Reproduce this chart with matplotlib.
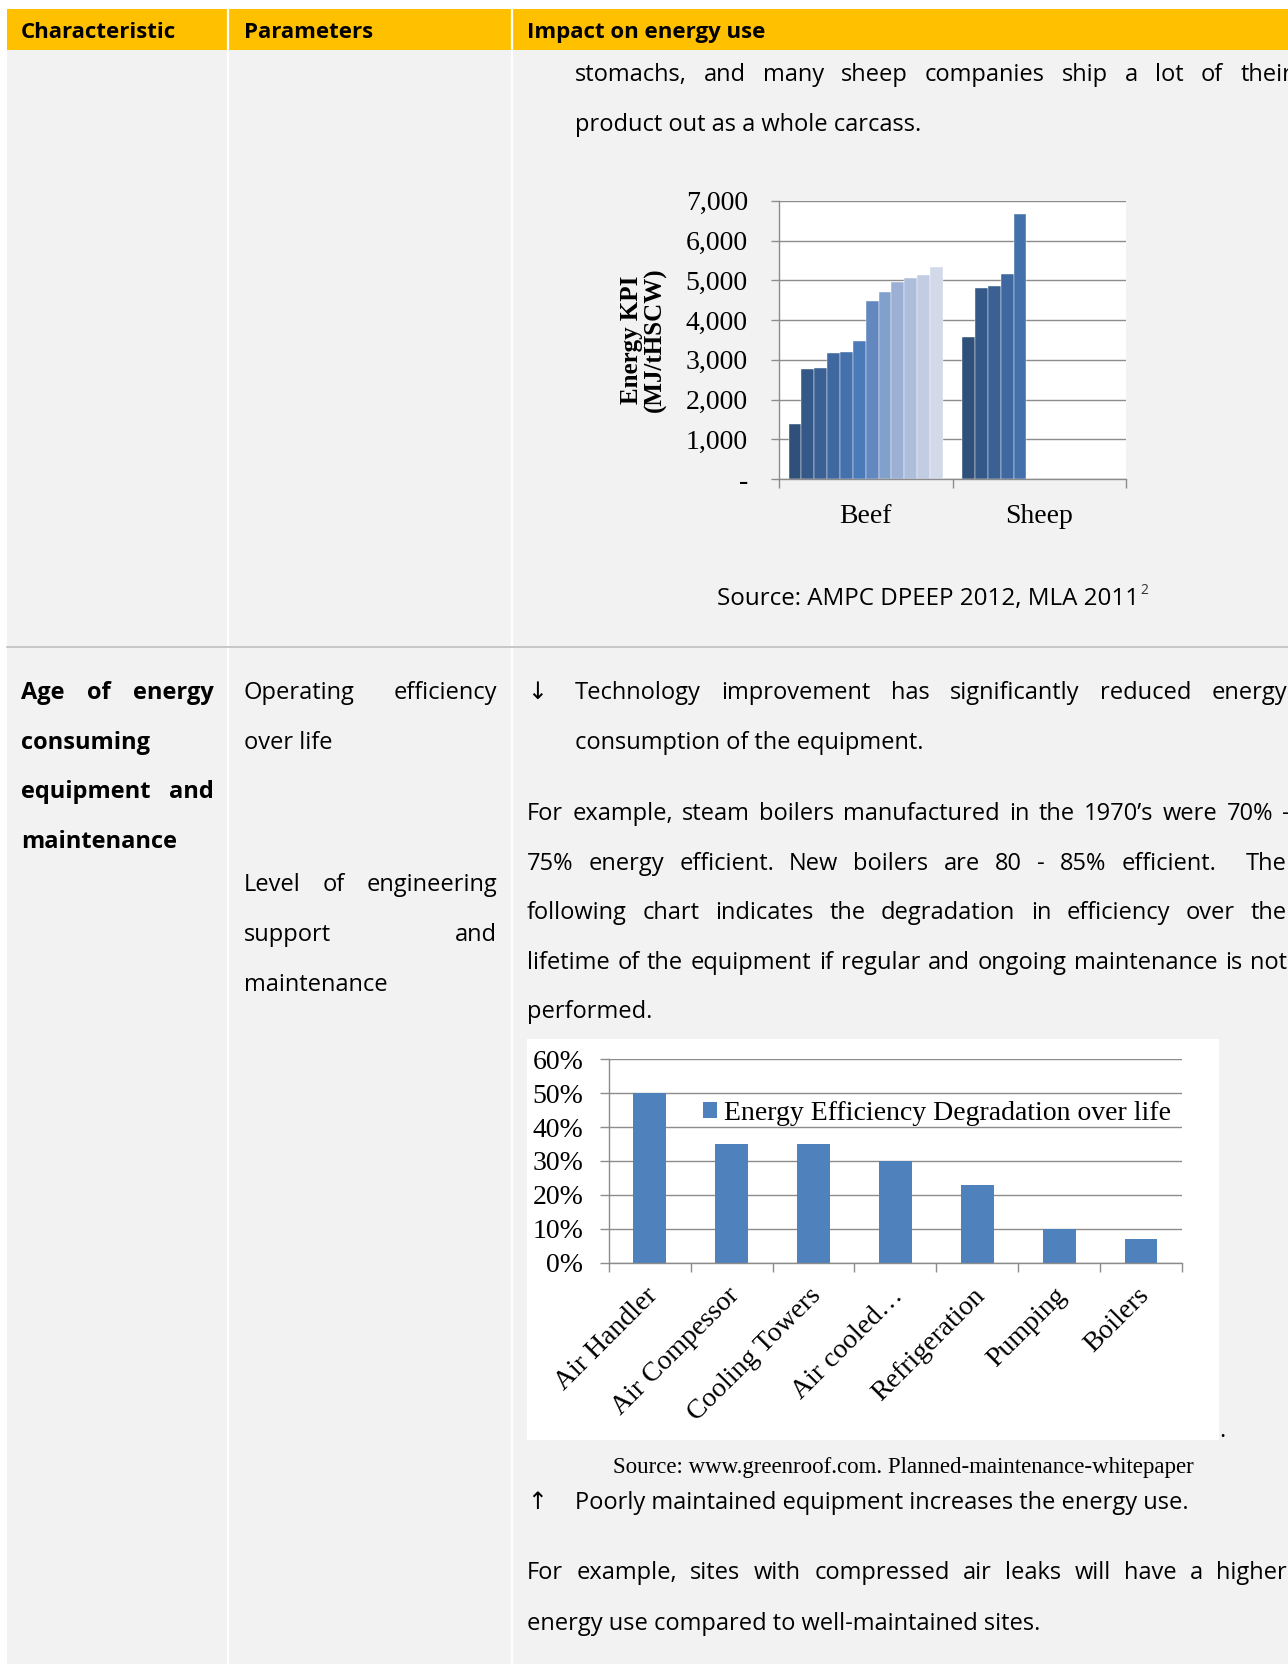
import numpy as np
import matplotlib
matplotlib.use("Agg")
import matplotlib.pyplot as plt
from matplotlib.patches import Rectangle
from matplotlib.ticker import FuncFormatter, PercentFormatter
from matplotlib.transforms import ScaledTranslation

# ── Data ───────────────────────────────────────────────────────────────────
kpi_groups = ['Beef', 'Sheep']
beef_kpi = [1380, 2770, 2790, 3180, 3200, 3475, 4480, 4705, 4965, 5060, 5135, 5335]
sheep_kpi = [3570, 4800, 4865, 5160, 6665]
kpi_colors = ['#2f5078', '#345888', '#3a6094', '#3f68a0', '#4470ab', '#4a7bb8',
              '#6388c0', '#82a0cc', '#9bb0d4', '#adbedc', '#c2cde4', '#d2d9e8']
kpi_ticks = [0, 1000, 2000, 3000, 4000, 5000, 6000, 7000]

equipment = ['Air Handler', 'Air Compessor', 'Cooling Towers', 'Air cooled…',
             'Refrigeration', 'Pumping', 'Boilers']
degradation = [0.50, 0.35, 0.35, 0.30, 0.23, 0.10, 0.07]
degradation_label = 'Energy Efficiency Degradation over life'

header_cols = ['Characteristic', 'Parameters', 'Impact on energy use']

# ── Page setup (page axes works in pixel units) ───────────────────────────
W, H = 1288, 1664
SANS = ['Open Sans', 'DejaVu Sans']
SERIF = ['Liberation Serif', 'DejaVu Serif']
BODY = 17
GRID = '#8c8c8c'

fig = plt.figure(figsize=(W / 100, H / 100), dpi=100)
page = fig.add_axes([0, 0, 1, 1])
page.set_xlim(0, W)
page.set_ylim(H, 0)
page.axis('off')
renderer = fig.canvas.get_renderer()

page.add_patch(Rectangle((7, 8.5), W - 7, 41.5, color='#FFC000', lw=0))
page.add_patch(Rectangle((7, 50), W - 7, H - 50, color='#f2f2f2', lw=0))
for xc in (228, 512):
    page.plot([xc, xc], [8.5, H], color='white', lw=1.6)
page.plot([7, W], [647, 647], color='#bfbfbf', lw=1.2)


def line(s, x0, y, x1=None, bold=False, size=BODY, family=SANS):
    """Draw one line of text at baseline y; justify it between x0 and x1."""
    kw = dict(fontsize=size, family=family, fontweight='bold' if bold else 'normal',
              va='baseline', ha='left', color='black')
    if x1 is None:
        return page.text(x0, y, s, **kw)
    words = s.split(' ')
    objs = [page.text(x0, y, w, **kw) for w in words]
    widths = [o.get_window_extent(renderer).width if w else 0 for o, w in zip(objs, words)]
    gap = (x1 - x0 - sum(widths)) / max(len(words) - 1, 1)
    x = x0
    for o, wd in zip(objs, widths):
        o.set_x(x)
        x += wd + gap
    return objs[-1]


# header
for label, x in zip(header_cols, (21, 244, 527)):
    line(label, x, 38, bold=True, size=16)

# first row (continuation)
line('stomachs, and many sheep companies ship a lot of their', 575, 81, 1292)
line('product out as a whole carcass.', 575, 131)
src = line('Source: AMPC DPEEP 2012, MLA 2011', 717, 605, size=17.4)
src_end = src.get_window_extent(renderer).x1
page.text(src_end + 1, 594, '2', fontsize=10, family=SANS, va='baseline', ha='left',
          color='#333333')

# second row, left and middle columns
line('Age of energy', 21, 699, 214, bold=True)
line('consuming', 21, 749, bold=True)
line('equipment and', 21, 798, 214, bold=True)
line('maintenance', 21, 848, bold=True)

line('Operating efficiency', 244, 699, 497)
line('over life', 244, 749)
line('Level of engineering', 244, 891, 497)
line('support and', 244, 941, 497)
line('maintenance', 244, 991)

# second row, right column
line('↓', 527, 699)
line('Technology improvement has significantly reduced energy', 575, 699, 1287)
line('consumption of the equipment.', 575, 749)
line('For example, steam boilers manufactured in the 1970’s were 70% -', 527, 820, 1290)
line('75% energy efficient. New boilers are 80 - 85% efficient.  The', 527, 870, 1287)
line('following chart indicates the degradation in efficiency over the', 527, 919, 1287)
line('lifetime of the equipment if regular and ongoing maintenance is not', 527, 969, 1287)
line('performed.', 527, 1018)

page.add_patch(Rectangle((527, 1039), 692, 401, color='white', lw=0))
page.text(1222, 1437, '.', fontsize=BODY, family=SANS, va='baseline', ha='center')
page.text(903, 1473, 'Source: www.greenroof.com. Planned-maintenance-whitepaper',
          fontsize=16.5, family=SERIF, va='baseline', ha='center')

line('↑', 527, 1509)
line('Poorly maintained equipment increases the energy use.', 575, 1509)
line('For example, sites with compressed air leaks will have a higher', 527, 1579, 1287)
line('energy use compared to well-maintained sites.', 527, 1630)


def px_axes(left, top, right, bottom):
    return fig.add_axes([left / W, 1 - bottom / H, (right - left) / W, (bottom - top) / H])


def style_axes(ax):
    ax.set_facecolor('white')
    for side in ('top', 'right'):
        ax.spines[side].set_visible(False)
    for side in ('left', 'bottom'):
        ax.spines[side].set_color(GRID)
        ax.spines[side].set_linewidth(1.0)
    ax.yaxis.grid(True, color=GRID, lw=1.0)
    ax.set_axisbelow(True)
    ax.tick_params(axis='x', which='major', length=0)
    ax.tick_params(axis='x', which='minor', length=6.5, color=GRID, width=1.0, direction='out')


# ── Energy KPI chart ─────────────────────────────────────────────────────
ax1 = px_axes(779, 200.7, 1126, 479.3)
style_axes(ax1)
n_series = len(beef_kpi)
bw = 1 / (n_series + 1.5)
xpos = np.arange(len(kpi_groups))
for i in range(n_series):
    vals = [beef_kpi[i], sheep_kpi[i] if i < len(sheep_kpi) else np.nan]
    ax1.bar(xpos - 0.5 + 0.75 * bw + (i + 0.5) * bw, vals, width=bw,
            color=kpi_colors[i], edgecolor='#ffffff', linewidth=0.3)
ax1.set_xlim(-0.5, len(kpi_groups) - 0.5)
ax1.set_ylim(kpi_ticks[0], kpi_ticks[-1])
ax1.set_yticks(kpi_ticks)
ax1.yaxis.set_major_formatter(FuncFormatter(lambda v, _: '-' if v == 0 else f'{v:,.0f}'))
ax1.set_xticks(xpos)
ax1.set_xticklabels(kpi_groups)
ax1.set_xticks(np.arange(len(kpi_groups) + 1) - 0.5, minor=True)
ax1.tick_params(axis='y', length=5.5, color=GRID, width=1.0, pad=17)
ax1.tick_params(axis='x', which='major', pad=17.5)
for t in ax1.get_xticklabels() + ax1.get_yticklabels():
    t.set_fontfamily(SERIF)
    t.set_fontsize(20)
ax1.text(-0.39, 0.5, 'Energy KPI\n(MJ/tHSCW)', transform=ax1.transAxes, rotation=90,
         ha='center', va='center', family=SERIF, fontweight='bold', fontsize=18,
         linespacing=1.05)

# ── Efficiency degradation chart ─────────────────────────────────────────
ax2 = px_axes(608.7, 1059.3, 1182, 1262.7)
style_axes(ax2)
xe = np.arange(len(equipment))
ax2.bar(xe, degradation, width=0.4, color='#4F81BD', label=degradation_label)
ax2.set_xlim(-0.5, len(equipment) - 0.5)
ax2.set_ylim(0, 0.6)
ax2.set_yticks(np.arange(0, 0.61, 0.1))
ax2.yaxis.set_major_formatter(PercentFormatter(1.0, decimals=0))
ax2.set_xticks(xe)
ax2.set_xticklabels(equipment, rotation=45, ha='right', va='top', rotation_mode='anchor')
ax2.set_xticks(np.arange(len(equipment) + 1) - 0.5, minor=True)
ax2.tick_params(axis='y', length=6.3, color=GRID, width=1.0, pad=12)
ax2.tick_params(axis='x', which='major', pad=14)
shift_left = ScaledTranslation(-5 / 100, -1 / 100, fig.dpi_scale_trans)
for t in ax2.get_xticklabels():
    t.set_transform(t.get_transform() + shift_left)
for t in ax2.get_xticklabels() + ax2.get_yticklabels():
    t.set_fontfamily(SERIF)
    t.set_fontsize(20)
ax2.legend(loc='center left', bbox_to_anchor=(0.165, 0.735), frameon=False,
           prop={'family': SERIF, 'size': 20}, handlelength=0.5, handleheight=0.5,
           handletextpad=0.25, borderpad=0, borderaxespad=0)

fig.savefig('out.png', dpi=100)
